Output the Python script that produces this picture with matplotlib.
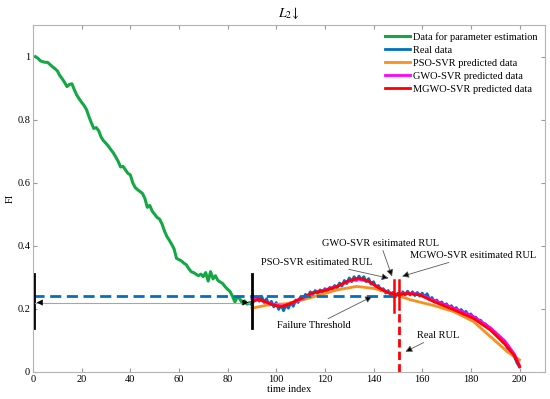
import matplotlib
matplotlib.use("Agg")
from matplotlib import pyplot as plt
import numpy as np

plt.rcParams['font.family'] = ['Liberation Serif', 'DejaVu Serif']
plt.rcParams['mathtext.fontset'] = 'stix'

# data for parameter estimation (green)
green_x = list(range(1, 91))
green_y = [1.0, 0.995, 0.987, 0.984, 0.982, 0.982, 0.975, 0.968, 0.962, 0.955,
           0.94, 0.93, 0.918, 0.905, 0.912, 0.914, 0.895, 0.878, 0.866, 0.855,
           0.845, 0.832, 0.81, 0.79, 0.772, 0.775, 0.765, 0.745, 0.733, 0.725,
           0.716, 0.705, 0.695, 0.682, 0.668, 0.65, 0.652, 0.641, 0.63, 0.625,
           0.6, 0.585, 0.578, 0.572, 0.566, 0.55, 0.522, 0.528, 0.51, 0.5,
           0.49, 0.485, 0.47, 0.448, 0.43, 0.418, 0.405, 0.39, 0.36, 0.356,
           0.352, 0.345, 0.34, 0.328, 0.318, 0.315, 0.31, 0.305, 0.31, 0.302,
           0.315, 0.288, 0.318, 0.295, 0.305, 0.29, 0.285, 0.28, 0.27, 0.262,
           0.255, 0.24, 0.222, 0.238, 0.232, 0.218, 0.225, 0.215, 0.22, 0.212]

# real data (blue)
real_x = list(range(90, 201))
real_y = [0.215, 0.228, 0.238, 0.224, 0.240, 0.220, 0.232, 0.212, 0.224, 0.206,
          0.220, 0.198, 0.214, 0.194, 0.212, 0.202, 0.220, 0.208, 0.228, 0.220,
          0.238, 0.230, 0.246, 0.238, 0.254, 0.244, 0.258, 0.248, 0.260, 0.252,
          0.264, 0.254, 0.268, 0.260, 0.274, 0.266, 0.282, 0.272, 0.290, 0.280,
          0.298, 0.286, 0.302, 0.290, 0.304, 0.292, 0.302, 0.286, 0.296, 0.278,
          0.286, 0.268, 0.274, 0.258, 0.264, 0.250, 0.258, 0.244, 0.252, 0.238,
          0.250, 0.240, 0.254, 0.244, 0.256, 0.244, 0.254, 0.242, 0.252, 0.240,
          0.250, 0.238, 0.248, 0.230, 0.236, 0.222, 0.228, 0.216, 0.222, 0.210,
          0.216, 0.204, 0.210, 0.198, 0.204, 0.192, 0.198, 0.188, 0.192, 0.180,
          0.184, 0.170, 0.174, 0.162, 0.164, 0.154, 0.152, 0.144, 0.138, 0.130,
          0.124, 0.114, 0.108, 0.096, 0.090, 0.076, 0.070, 0.054, 0.046, 0.028,
          0.016]

# PSO-SVR (orange)
pso_x = [90, 97, 104, 111, 118, 125, 133, 140, 148, 155, 165, 173, 181, 188, 195, 200]
pso_y = [0.202, 0.213, 0.216, 0.229, 0.244, 0.260, 0.271, 0.265, 0.248, 0.229,
         0.210, 0.191, 0.160, 0.112, 0.064, 0.038]

# GWO-SVR (magenta) and MGWO-SVR (red)
pred_x = [90, 93, 98, 102, 106, 110, 115, 120, 125, 130, 134, 138, 142, 146,
          150, 154, 159, 165, 173, 181, 188, 194, 198, 200]
gwo_y = [0.232, 0.228, 0.216, 0.208, 0.216, 0.230, 0.250, 0.260, 0.272, 0.288,
         0.294, 0.287, 0.268, 0.252, 0.245, 0.250, 0.246, 0.226, 0.202, 0.176,
         0.140, 0.098, 0.055, 0.020]
mgwo_y = [0.222, 0.231, 0.214, 0.206, 0.217, 0.233, 0.251, 0.258, 0.271, 0.290,
          0.297, 0.288, 0.267, 0.251, 0.244, 0.249, 0.244, 0.222, 0.197, 0.170,
          0.133, 0.088, 0.050, 0.017]

threshold = 0.24
start_idx, pred_start = 1, 90
gwo_rul, mgwo_rul, real_rul = 148.3, 150.6, 150.6

fig = plt.figure(figsize=(5.5, 3.99), dpi=100)
ax = fig.add_axes([0.06, 0.068, 0.931, 0.869])

ax.plot(green_x, green_y, color='#14a845', lw=2.2, label='Data for parameter estimation')
ax.plot(real_x, real_y, color='#0072BD', lw=2, label='Real data')
ax.plot(pso_x, pso_y, color='#F7901E', lw=2, label='PSO-SVR predicted data')
ax.plot(pred_x, gwo_y, color='#FF00FF', lw=2, label='GWO-SVR predicted data')
ax.plot(pred_x, mgwo_y, color='#FF0000', lw=2, label='MGWO-SVR predicted data')

# failure threshold
ax.plot([0, real_rul], [threshold, threshold], '--', color='#0072BD', lw=2, dashes=(4, 2))

# start / prediction boundaries
ax.plot([start_idx - 0.5, start_idx - 0.5], [0.14, 0.31], color='k', lw=2)
ax.plot([pred_start, pred_start], [0.14, 0.31], color='k', lw=2)
ax.plot([start_idx, pred_start - 1], [0.22, 0.22], color='0.65', lw=0.8)
for tip, tail in [((1.5, 0.22), (10, 0.22)), ((88.6, 0.22), (80, 0.22))]:
    ax.annotate('', xy=tip, xytext=tail,
                arrowprops=dict(arrowstyle='-|>', fc='k', ec='k', lw=0.01,
                                mutation_scale=11, shrinkA=0, shrinkB=0))

# RUL markers
ax.plot([gwo_rul, gwo_rul], [0.19, 0.292], color='#FF0000', lw=1.8)
ax.plot([mgwo_rul, mgwo_rul], [0.2, 0.292], color='#FF0000', lw=1.8)
ax.plot([real_rul, real_rul], [0, 0.2], '--', color='#FF0000', lw=2, dashes=(3, 1.5))

arr = dict(arrowstyle='-|>', color='0.35', fc='k', lw=0.6, mutation_scale=10,
           shrinkA=0, shrinkB=0)
fs = 7.5
ax.annotate('PSO-SVR esitimated RUL', xy=(146.2, 0.297), xytext=(139.4, 0.334),
            arrowprops=arr, fontsize=fs, ha='right', va='bottom')
ax.annotate('GWO-SVR esitimated RUL', xy=(147.6, 0.303), xytext=(142.8, 0.394),
            arrowprops=arr, fontsize=fs, ha='center', va='bottom')
ax.annotate('MGWO-SVR esitimated RUL', xy=(151.7, 0.303), xytext=(155.1, 0.356),
            arrowprops=arr, fontsize=fs, ha='left', va='bottom')
ax.annotate('Failure Threshold', xy=(139.4, 0.239), xytext=(130.5, 0.16),
            arrowprops=arr, fontsize=fs, ha='right', va='top')
ax.annotate('Real RUL', xy=(153.1, 0.064), xytext=(157.9, 0.102),
            arrowprops=arr, fontsize=fs, ha='left', va='bottom')

ax.set_xlim(0, 210.5)
ax.set_ylim(0, 1.1)
ax.set_xticks(range(0, 201, 20))
ax.set_yticks([0, 0.2, 0.4, 0.6, 0.8, 1])
ax.set_yticklabels(['0', '0.2', '0.4', '0.6', '0.8', '1'])
ax.tick_params(direction='in', length=3, labelsize=fs, top=True, right=True,
               color='0.6', pad=2)
for s in ax.spines.values():
    s.set_color('0.7')
    s.set_linewidth(0.8)
ax.set_xlabel('time index', fontsize=fs, labelpad=1)
ax.set_ylabel('FI', fontsize=fs, labelpad=2)
ax.set_title(r'$L_2\!\downarrow$', fontsize=10, pad=6)

ax.legend(loc='upper right', frameon=False, fontsize=fs, handlelength=2.4,
          handletextpad=0.3, labelspacing=0.35, borderaxespad=0.3)

plt.savefig('out.png')
plt.close()
